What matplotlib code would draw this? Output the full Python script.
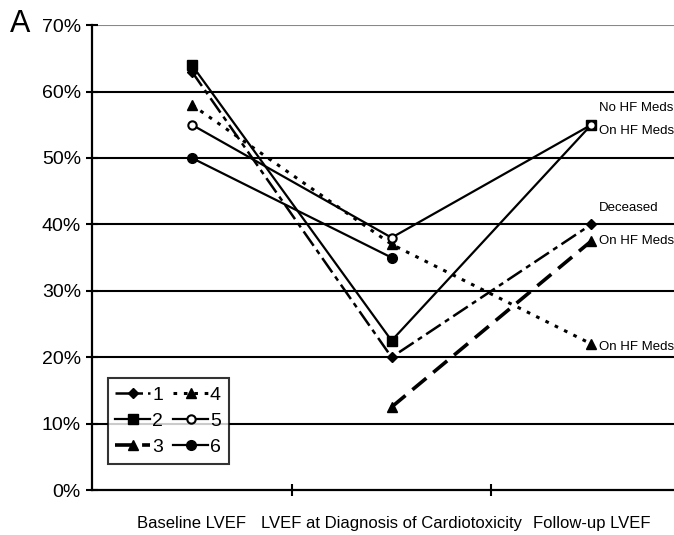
import matplotlib.pyplot as plt
import numpy as np

plt.rcParams['font.family'] = ['Liberation Sans', 'DejaVu Sans']

stages = ["Baseline LVEF", "LVEF at Diagnosis of Cardiotoxicity", "Follow-up LVEF"]
yticks = [0, 10, 20, 30, 40, 50, 60, 70]

# LVEF (%) per patient at each stage; nan where not measured
p1 = [63, 20, 40]
p2 = [64, 22.5, 55]
p3 = [np.nan, 12.5, 37.5]
p4 = [58, 37, 22]
p5 = [55, 38, 55]
p6 = [50, 35, np.nan]

end_notes = [("No HF Meds", 57.5), ("On HF Meds", 54.0), ("Deceased", 42.5),
             ("On HF Meds", 37.5), ("On HF Meds", 21.5)]

fig = plt.figure(figsize=(6.74, 5.35), dpi=100)
ax = fig.add_axes([0.1365, 0.084, 0.889, 0.869])

x = np.arange(3) + 0.5
styles = [
    (p1, "1", dict(ls=(0, (7, 2, 2, 2)), marker="D", ms=5.5, lw=1.8, mfc="black")),
    (p2, "2", dict(ls="-", marker="s", ms=7, lw=1.6, mfc="black")),
    (p3, "3", dict(ls=(0, (5, 2.5)), marker="^", ms=7, lw=2.6, mfc="black")),
    (p4, "4", dict(ls=(0, (1.2, 2.2)), marker="^", ms=7, lw=2.2, mfc="black")),
    (p5, "5", dict(ls="-", marker="o", ms=6, lw=1.6, mfc="white", mew=1.5)),
    (p6, "6", dict(ls="-", marker="o", ms=7, lw=1.6, mfc="black")),
]
for vals, name, kw in styles:
    ax.plot(x, vals, color="black", mec="black", label=name, zorder=3, **kw)

# status notes beside the follow-up points
for txt, yv in end_notes:
    ax.text(2.54, yv, txt, fontsize=9.5, va="center", ha="left", clip_on=False)

ax.set_xlim(0, 3)
ax.set_ylim(0, 70)
ax.set_yticks(yticks)
ax.set_yticklabels([f"{v}%" for v in yticks], fontsize=14)
ax.set_xticks([1, 2])
ax.set_xticklabels([])
for xi, s in zip(x, stages):
    ax.text(xi, -5.0, s, ha="center", va="center", fontsize=12)
ax.tick_params(axis="both", direction="inout", length=8, width=1.5, color="black", pad=4)

for v in yticks[1:-1]:
    ax.axhline(v, color="black", lw=1.5, zorder=1)
ax.axhline(70, color="#888888", lw=1.5, zorder=1)

for side in ["top", "right"]:
    ax.spines[side].set_visible(False)
for side in ["left", "bottom"]:
    ax.spines[side].set_linewidth(1.6)

leg = ax.legend(ncol=2, loc="lower left", bbox_to_anchor=(0.01, 0.035), fontsize=14,
                frameon=True, fancybox=False, edgecolor="black", handlelength=1.8,
                handletextpad=0.1, columnspacing=0.5, labelspacing=0.45, borderpad=0.4)
leg.get_frame().set_linewidth(1.5)
leg.set_zorder(5)

fig.text(0.015, 0.955, "A", fontsize=22, ha="left", va="center")

fig.savefig("out.png", dpi=100)
